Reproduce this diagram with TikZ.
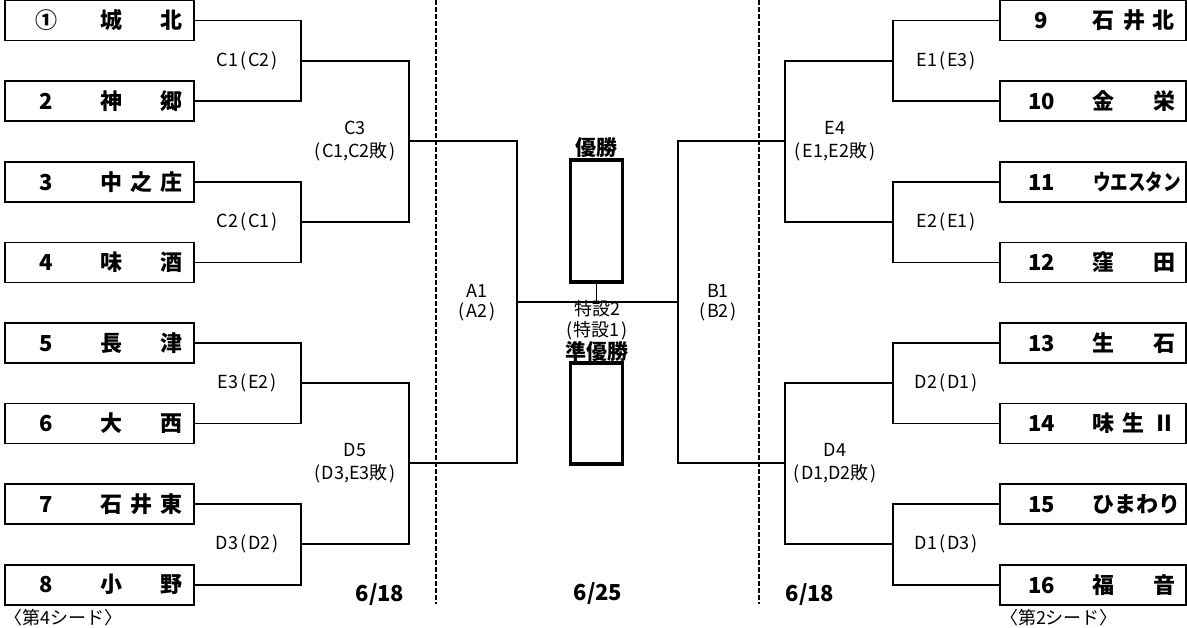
\documentclass[tikz,border=0pt]{standalone}
\usepackage{fontspec}
\setmainfont{Noto Sans CJK JP}
\usetikzlibrary{calc,positioning}

\newcommand{\lpar}{\makebox[.55em]{(}}
\newcommand{\rpar}{\makebox[.55em]{)}}
\newcommand{\tm}[3][189pt]{\makebox[#1]{\makebox[83pt]{#2}\hfill\makebox[82pt][s]{#3}\hspace{11pt}}}

\begin{document}
\begin{tikzpicture}[x=1pt,y=-1pt,line width=1.6pt,
	team/.style={draw,line width=1.6pt,minimum height=40pt,inner sep=0pt,
		font=\bfseries\fontsize{22}{22}\selectfont},
	lbl/.style={align=center,inner sep=0pt,font=\fontsize{18}{23}\selectfont},
	prize/.style={draw,line width=3.5pt,minimum width=52pt,inner sep=0pt},
	prizetext/.style={inner sep=0pt,font=\bfseries\fontsize{21}{21}\selectfont},
	datelbl/.style={inner sep=0pt,font=\bfseries\fontsize{22}{22}\selectfont},
	seed/.style={inner sep=0pt,font=\fontsize{18}{18}\selectfont},
	dashline/.style={line width=1.4pt,dash pattern=on 5pt off 2pt}]
	\useasboundingbox (0,0) rectangle (1187,627);

	% left half
	\node[team] (t1) at (99.5,20.5) {\tm{①}{城\hfil 北}};
	\node[team] (t2) [below=39pt of t1] {\tm{2}{神\hfil 郷}};
	\node[team] (t3) [below=39pt of t2] {\tm{3}{中\hfil 之\hfil 庄}};
	\node[team] (t4) [below=39pt of t3] {\tm{4}{味\hfil 酒}};
	\node[team] (t5) [below=39pt of t4] {\tm{5}{長\hfil 津}};
	\node[team] (t6) [below=39pt of t5] {\tm{6}{大\hfil 西}};
	\node[team] (t7) [below=39pt of t6] {\tm{7}{石\hfil 井\hfil 東}};
	\node[team] (t8) [below=39pt of t7] {\tm{8}{小\hfil 野}};

	% right half
	\node[team] (t9) at (1093,20.5) {\tm[186pt]{9}{石\hfil 井\hfil 北}};
	\node[team] (t10) [below=39pt of t9] {\tm[186pt]{10}{金\hfil 栄}};
	\node[team] (t11) [below=39pt of t10] {\tm[186pt]{11}{\hfill\scalebox{.8}[1]{ウエスタン}}};
	\node[team] (t12) [below=39pt of t11] {\tm[186pt]{12}{窪\hfil 田}};
	\node[team] (t13) [below=39pt of t12] {\tm[186pt]{13}{生\hfil 石}};
	\node[team] (t14) [below=39pt of t13] {\tm[186pt]{14}{味\hfil 生\hfil Ⅱ}};
	\node[team] (t15) [below=39pt of t14] {\tm[186pt]{15}{ひ\hfil ま\hfil わ\hfil り}};
	\node[team] (t16) [below=39pt of t15] {\tm[186pt]{16}{福\hfil 音}};

	\coordinate (c1) at (301,60.75);
	\coordinate (c2) at (301,221.75);
	\coordinate (e3) at (301,382.75);
	\coordinate (d3) at (301,543.75);
	\coordinate (c3) at (409,141.25);
	\coordinate (d5) at (409,463.25);
	\coordinate (a1) at (517,302.25);
	\coordinate (e1) at (893,60.75);
	\coordinate (e2) at (893,221.75);
	\coordinate (d2) at (893,382.75);
	\coordinate (d1) at (893,543.75);
	\coordinate (e4) at (785,141.25);
	\coordinate (d4) at (785,463.25);
	\coordinate (b1) at (678,302.25);

	\draw (t1.east) -| (c1) |- (t2.east);
	\draw (t3.east) -| (c2) |- (t4.east);
	\draw (t5.east) -| (e3) |- (t6.east);
	\draw (t7.east) -| (d3) |- (t8.east);
	\draw (c1) -| (c3) |- (c2);
	\draw (e3) -| (d5) |- (d3);
	\draw (c3) -| (a1) |- (d5);
	\draw (t9.west) -| (e1) |- (t10.west);
	\draw (t11.west) -| (e2) |- (t12.west);
	\draw (t13.west) -| (d2) |- (t14.west);
	\draw (t15.west) -| (d1) |- (t16.west);
	\draw (e1) -| (e4) |- (e2);
	\draw (d2) -| (d4) |- (d1);
	\draw (e4) -| (b1) |- (d4);
	\draw (a1) -- (b1);

	\node[lbl] at ($(c1)+(-53,0)$) {C1\lpar C2\rpar};
	\node[lbl] at ($(c2)+(-53,0)$) {C2\lpar C1\rpar};
	\node[lbl] at ($(e3)+(-53,0)$) {E3\lpar E2\rpar};
	\node[lbl] at ($(d3)+(-53,0)$) {D3\lpar D2\rpar};
	\node[lbl] at ($(c3)+(-54,0)$) {C3\\\lpar C1,C2敗\rpar};
	\node[lbl] at ($(d5)+(-54,0)$) {D5\\\lpar D3,E3敗\rpar};
	\node[lbl,font=\fontsize{18}{20}\selectfont] at ($(a1)+(-40,0)$) {A1\\\lpar A2\rpar};
	\node[lbl] at ($(e1)+(54,0)$) {E1\lpar E3\rpar};
	\node[lbl] at ($(e2)+(54,0)$) {E2\lpar E1\rpar};
	\node[lbl] at ($(d2)+(54,0)$) {D2\lpar D1\rpar};
	\node[lbl] at ($(d1)+(54,0)$) {D1\lpar D3\rpar};
	\node[lbl] at ($(e4)+(50,0)$) {E4\\\lpar E1,E2敗\rpar};
	\node[lbl] at ($(d4)+(50,0)$) {D4\\\lpar D1,D2敗\rpar};
	\node[lbl,font=\fontsize{18}{20}\selectfont] at ($(b1)+(40,0)$) {B1\\\lpar B2\rpar};

	% center
	\node[prize,minimum height=122pt] (win) at (596.5,221) {};
	\node[prize,minimum height=101pt] (run) at (596.5,413.5) {};
	\node[prizetext,above=0pt of win] {優勝};
	\draw (win.south) -- (win.south |- a1);
	\node[lbl,font=\fontsize{18}{21}\selectfont] (sp) at (597,331)
		{特設2\\\lpar 特設1\rpar\\{\bfseries\fontsize{21}{21}\selectfont 準優勝}};

	\draw[dashline] (436,0) -- (436,604);
	\draw[dashline] (759,0) -- (759,604);

	\node[datelbl] at (380,595) {6/18};
	\node[datelbl] at (598,594) {6/25};
	\node[datelbl] at (810,595) {6/18};
	\node[seed,anchor=north west] at ([yshift=-3pt]t8.south west) {〈第4シード〉};
	\node[seed,anchor=north west] at ([yshift=-3pt]t16.south west) {〈第2シード〉};
\end{tikzpicture}
\end{document}
